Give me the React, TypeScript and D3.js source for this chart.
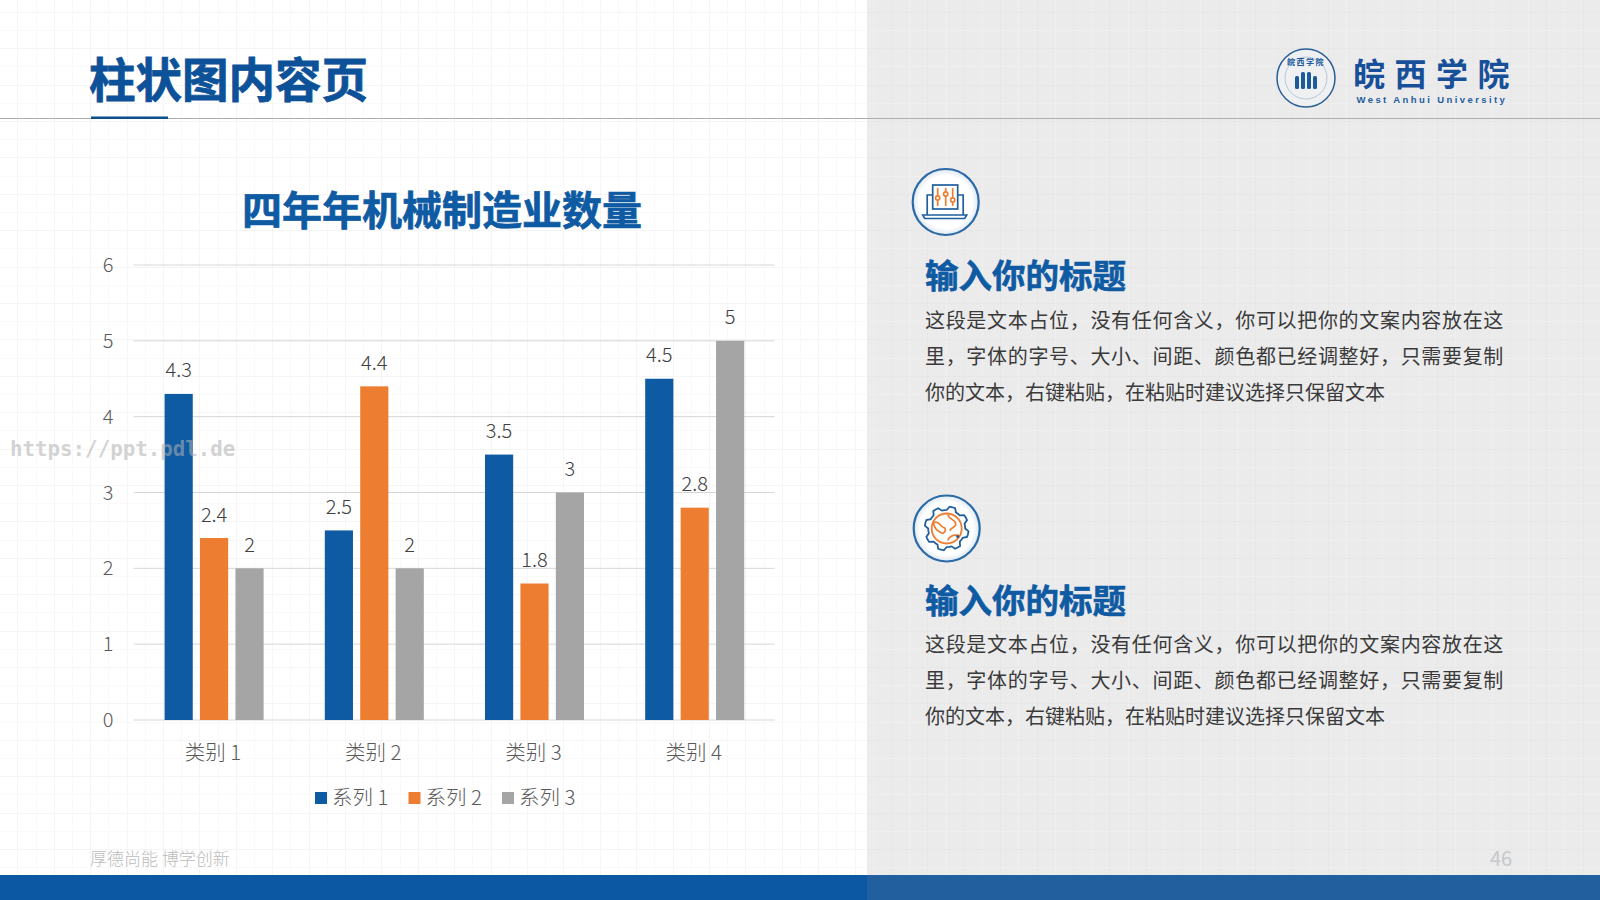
import React from "react";
import * as d3 from "d3";

const categories = ["类别 1", "类别 2", "类别 3", "类别 4"];
const seriesNames = ["系列 1", "系列 2", "系列 3"];
const series1 = [4.3, 2.5, 3.5, 4.5];
const series2 = [2.4, 4.4, 1.8, 2.8];
const series3 = [2, 2, 3, 5];
const seriesValues = [series1, series2, series3];
const seriesColors = ["#0e5aa3", "#ed7d31", "#a5a5a5"];
const yTicks = [0, 1, 2, 3, 4, 5, 6];
const bodyLines = [
  "这段是文本占位，没有任何含义，你可以把你的文案内容放在这",
  "里，字体的字号、大小、间距、颜色都已经调整好，只需要复制",
  "你的文本，右键粘贴，在粘贴时建议选择只保留文本",
];

const CJK = '"Noto Sans CJK SC", "Noto Sans", sans-serif';
const BLUE = "#0e5aa3";
const TXT = "#595959";

const x0 = d3.scaleBand<string>().domain(categories).range([134, 774.8]);
const x1 = d3.scaleBand<number>().domain([0, 1, 2]).range([30.6, 129.6]).paddingInner(0.205);
const y = d3.scaleLinear().domain([0, 6]).range([720, 265]);

const PITCH = 18.2;
const gridV = d3.range(0, 88).map((i) => widthSnap(-0.8 + i * PITCH));
const gridH = d3.range(0, 48).map((i) => widthSnap(11.8 + i * PITCH));
function widthSnap(v: number) {
  return Math.round(v) + 0.5;
}

const toothAngles = d3.range(0, 48);
const gearOutline = d3
  .lineRadial<number>()
  .angle((i) => (i / 48) * Math.PI * 2)
  .radius((i) => (i % 6 === 1 || i % 6 === 2 || i % 6 === 3 ? 22 : 18.5))
  .curve(d3.curveLinearClosed);

function Section({ cx, cy, headY, bodyY, icon }: { cx: number; cy: number; headY: number; bodyY: number; icon: React.ReactNode }) {
  return (
    <g>
      <circle cx={cx} cy={cy} r={33} fill="url(#iconFill)" stroke="#2c6aa6" strokeWidth={2.2} />
      <g transform={`translate(${cx},${cy})`}>{icon}</g>
      <text x={925} y={headY} fontSize={33.5} fontWeight={700} fill={BLUE} stroke={BLUE} strokeWidth={0.6} dominantBaseline="central" fontFamily={CJK}>输入你的标题</text>
      {bodyLines.map((l, i) => (
        <text key={i} x={925} y={bodyY + i * 36} fontSize={20} letterSpacing={i < 2 ? 0.68 : 0} fill="#3a3a3a" dominantBaseline="central" fontFamily={CJK}>{l}</text>
      ))}
    </g>
  );
}

const laptopIcon = (
  <g fill="none" strokeWidth={1.7} stroke="#1f5f9e">
    <rect x={-13} y={-17} width={25} height={24} fill="#fff" />
    <path d="M-13,-7 H-18.5 V13 M12,-7 H17.5 V13" />
    <path d="M-23,13 H21 L19,16.5 H-21 Z" />
    {[-8, 0, 7].map((dx, i) => (
      <g key={i} stroke="#ed7d31">
        <path d={`M${dx},-14 V4`} />
        <circle cx={dx} cy={[-4, -8, -2][i]} r={2.1} fill="#fff" />
      </g>
    ))}
  </g>
);

const gearIcon = (
  <g fill="none">
    <path d={gearOutline(toothAngles) ?? ""} stroke="#1f5f9e" strokeWidth={1.8} fill="#fff" />
    <circle r={15} stroke="#ed7d31" strokeWidth={1.8} fill="#fff" />
    <path d="M-13,-6 C-7,-8 -7,-2 -3,-1 C1,0 -3,7 -6,4 C-10,2 -13,-2 -13,-6 M1,-14 C3,-8 8,-10 9,-5 C10,-1 5,-2 3,2 M1,12 C3,7 8,6 13,7" stroke="#ed7d31" strokeWidth={1.7} />
    <circle cx={11} cy={8} r={1.5} fill="#1f5f9e" />
  </g>
);

export default function App() {
  return (
    <svg width={1600} height={900} viewBox="0 0 1600 900" style={{ position: "absolute", left: 0, top: 0, display: "block" }}>
      <defs>
        <radialGradient id="iconFill">
          <stop offset="0.8" stopColor="#ffffff" />
          <stop offset="1" stopColor="#dbe7f3" />
        </radialGradient>
      </defs>
      <rect width={1600} height={900} fill="#ffffff" />
      <rect x={867} width={733} height={900} fill="#ebebec" />
      <g strokeWidth={1}>
        {gridV.map((v, i) => (
          <line key={v} x1={v} x2={v} y1={0} y2={875} stroke={v < 867 ? (i % 2 ? "#f5f5f6" : "#f9f9fa") : i % 2 ? "#e7e7e8" : "#efeff0"} />
        ))}
        {gridH.map((v, i) => (
          <g key={v}>
            <line x1={0} x2={867} y1={v} y2={v} stroke={i % 2 ? "#f9f9fa" : "#f5f5f6"} />
            <line x1={867} x2={1600} y1={v} y2={v} stroke={i % 2 ? "#efeff0" : "#e7e7e8"} />
          </g>
        ))}
      </g>

      {/* header */}
      <line x1={0} x2={1600} y1={118.5} y2={118.5} stroke="#a9acb1" strokeWidth={1} />
      <rect x={91} y={116.5} width={77} height={2.5} fill="#0c4f8c" />
      <text x={89} y={76} fontSize={46.5} fontWeight={700} fill="#0d5299" stroke="#0d5299" strokeWidth={0.8} dominantBaseline="central" fontFamily={CJK}>柱状图内容页</text>

      {/* logo */}
      <g>
        <circle cx={1306} cy={78} r={29} fill="#eff0f2" stroke="#2a5f96" strokeWidth={1.5} />
        <circle cx={1306} cy={78} r={21} fill="none" stroke="#a9bcd0" strokeWidth={0.8} />
        {[-9, -3, 3, 9].map((d, i) => (
          <rect key={i} x={1306 + d - 2} y={i === 1 || i === 2 ? 72 : 76} width={4} height={i === 1 || i === 2 ? 17 : 13} fill="#1d5a9c" rx={1.5} />
        ))}
        <text x={1306} y={61} fontSize={8} fontWeight={700} fill="#1d5a9c" textAnchor="middle" dominantBaseline="central" letterSpacing={1.5} fontFamily={CJK}>皖西学院</text>
        <text x={1353} y={72} fontSize={32} fontWeight={700} fill="#174f99" dominantBaseline="central" letterSpacing={9.5} fontFamily={CJK}>皖西学院</text>
        <text x={1356.5} y={99} fontSize={9.5} fontWeight={700} fill="#245d9e" dominantBaseline="central" letterSpacing={2.4} fontFamily={'"Liberation Sans", sans-serif'}>West Anhui University</text>
      </g>

      {/* chart */}
      <text x={442} y={208} fontSize={40} fontWeight={700} fill={BLUE} stroke={BLUE} strokeWidth={0.7} textAnchor="middle" dominantBaseline="central" fontFamily={CJK}>四年年机械制造业数量</text>
      {yTicks.map((t) => (
        <g key={t}>
          <line x1={133.7} x2={774.5} y1={y(t)} y2={y(t)} stroke="#d5d6da" strokeWidth={1} />
          <text x={108} y={y(t) - 1.5} fontSize={20} fontWeight={300} fill={TXT} textAnchor="middle" dominantBaseline="central" fontFamily={CJK}>{t}</text>
        </g>
      ))}
      {categories.map((c, ci) => (
        <g key={c} transform={`translate(${x0(c)},0)`}>
          {seriesValues.map((vals, si) => {
            const v = vals[ci];
            const bx = x1(si)!;
            return (
              <g key={si}>
                <rect x={bx} y={y(v)} width={x1.bandwidth()} height={y(0) - y(v)} fill={seriesColors[si]} />
                <text x={bx + x1.bandwidth() / 2} y={y(v) - 25} fontSize={20} fontWeight={300} fill="#404040" textAnchor="middle" dominantBaseline="central" fontFamily={CJK}>{v}</text>
              </g>
            );
          })}
          <text x={x0.bandwidth() / 2 - 1} y={750.5} fontSize={20.5} fontWeight={300} fill={TXT} textAnchor="middle" dominantBaseline="central" fontFamily={CJK}>{c}</text>
        </g>
      ))}
      {/* legend */}
      {seriesNames.map((s, i) => (
        <g key={s} transform={`translate(${315 + i * 93.5},0)`}>
          <rect x={0} y={792} width={12} height={12} fill={seriesColors[i]} />
          <text x={17} y={795.5} fontSize={20.5} fontWeight={300} fill={TXT} dominantBaseline="central" fontFamily={CJK}>{s}</text>
        </g>
      ))}

      {/* watermark */}
      <text x={10} y={449} fontSize={20.8} fontWeight={700} fill="#b0b0b0" opacity={0.55} dominantBaseline="central" fontFamily={'"DejaVu Sans Mono", monospace'}>https://ppt.pdl.de</text>

      {/* right side */}
      <Section cx={945.7} cy={202} headY={273.5} bodyY={319} icon={laptopIcon} />
      <Section cx={946.7} cy={528.5} headY={598} bodyY={643} icon={gearIcon} />

      {/* footer */}
      <text x={90} y={857.5} fontSize={17} fontWeight={300} fill="#bcbcbc" dominantBaseline="central" fontFamily={CJK}>厚德尚能 博学创新</text>
      <text x={1501} y={857} fontSize={20} fill="#c6c8cb" textAnchor="middle" dominantBaseline="central" fontFamily={CJK}>46</text>
      <rect x={0} y={875} width={867} height={25} fill="#0d58a2" />
      <rect x={867} y={875} width={733} height={25} fill="#215f9e" />
    </svg>
  );
}
